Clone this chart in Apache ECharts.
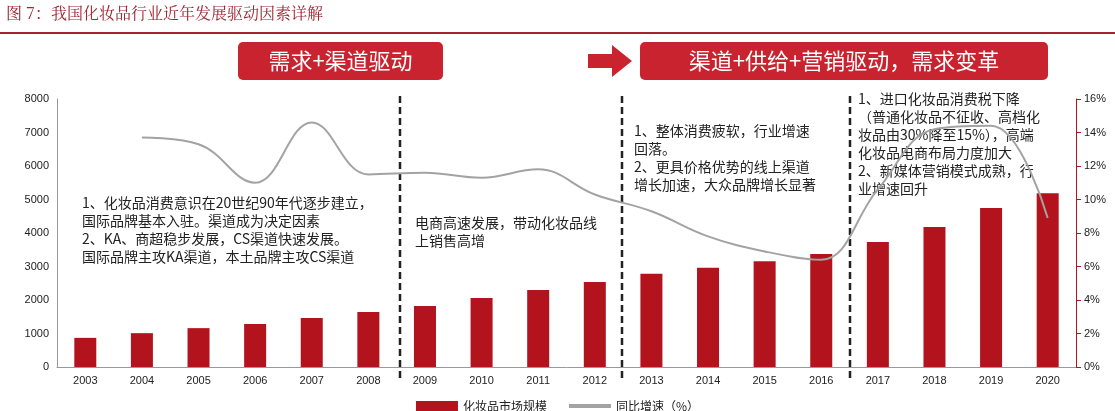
<!DOCTYPE html>
<html>
<head>
<meta charset="UTF-8"/>
<script src="https://cdn.jsdelivr.net/npm/echarts@6/dist/echarts.min.js"></script>
<style>body{margin:0;background:#fff}#chart{width:1115px;height:411px}</style>
</head>
<body>
<div id="chart"></div>
<script>
    var years = ['2003','2004','2005','2006','2007','2008','2009','2010','2011','2012','2013','2014','2015','2016','2017','2018','2019','2020'];
    var marketSize = [870,1010,1160,1280,1460,1640,1820,2060,2300,2540,2780,2960,3160,3370,3730,4180,4750,5190];
    var growth = [null,13.7,13.3,11.0,14.6,11.5,11.6,11.3,11.8,10.3,9.3,7.8,6.9,6.4,10.6,14.2,14.4,8.9];
    var font = '"Noto Sans CJK SC", "Noto Sans", sans-serif';
    var red = '#b3131d';

    // 文字注释
    function note(x, y, text) {
        return {type: 'text', left: x, top: y, style: {text: text, font: '14px ' + font, fill: '#222', lineHeight: 18}};
    }
    function divider(x) {
        return {type: 'line', shape: {x1: x, y1: 96, x2: x, y2: 382}, style: {stroke: '#222', lineWidth: 2.5, lineDash: [7, 4]}};
    }
    function banner(x, w, text) {
        return [
            {type: 'rect', shape: {x: x, y: 42, width: w, height: 38, r: 5}, style: {fill: '#c8232f'}},
            {type: 'text', x: x + w / 2, y: 61, style: {text: text, align: 'center', verticalAlign: 'middle', font: '22px ' + font, fill: '#fff'}}
        ];
    }

    const chart = echarts.init(document.getElementById('chart'));
    chart.setOption({
        animation: false,
        grid: {left: 57, right: 39, top: 99, bottom: 44},
        legend: {
            bottom: -6, itemWidth: 42, itemHeight: 10, itemGap: 22,
            textStyle: {fontFamily: font, fontSize: 12, color: '#222'},
            data: [{name: '化妆品市场规模', icon: 'rect'}, {name: '同比增速（%）', icon: 'path://M0,0H10V1H0Z'}]
        },
        xAxis: {
            type: 'category', data: years,
            axisLine: {lineStyle: {color: '#999'}}, axisTick: {show: false},
            axisLabel: {color: '#222', fontSize: 11, fontFamily: 'Liberation Sans'}
        },
        yAxis: [{
            type: 'value', min: 0, max: 8000, interval: 1000,
            splitLine: {show: false}, axisLine: {show: true, lineStyle: {color: '#999'}},
            axisLabel: {color: '#222', fontSize: 11, fontFamily: 'Liberation Sans', formatter: function (v) { return String(v); }}
        }, {
            type: 'value', min: 0, max: 16, interval: 2,
            splitLine: {show: false}, axisLine: {show: true, lineStyle: {color: red}},
            axisTick: {show: true, lineStyle: {color: red}},
            axisLabel: {color: '#222', fontSize: 11, fontFamily: 'Liberation Sans', formatter: '{value}%'}
        }],
        series: [{
            name: '化妆品市场规模', type: 'bar', data: marketSize, barWidth: 22,
            itemStyle: {color: red}
        }, {
            name: '同比增速（%）', type: 'line', yAxisIndex: 1, data: growth, smooth: 0.4,
            showSymbol: false, lineStyle: {color: '#a3a3a3', width: 2}, itemStyle: {color: '#a3a3a3'}
        }],
        graphic: [
            {type: 'text', left: 6, top: 5, style: {text: '图 7：我国化妆品行业近年发展驱动因素详解', font: '16px "Noto Serif CJK SC", "Noto Sans CJK SC"', fill: '#a02432'}},
            {type: 'line', shape: {x1: 0, y1: 33, x2: 1115, y2: 33}, style: {stroke: '#a02432', lineWidth: 2}},
            {type: 'polygon', shape: {points: [[588, 54], [612, 54], [612, 45], [632, 61], [612, 77], [612, 68], [588, 68]]}, style: {fill: '#c8232f'}},
            divider(400), divider(622), divider(850),
            note(82, 194, '1、化妆品消费意识在20世纪90年代逐步建立，\n国际品牌基本入驻。渠道成为决定因素\n2、KA、商超稳步发展，CS渠道快速发展。\n国际品牌主攻KA渠道，本土品牌主攻CS渠道'),
            note(415, 214, '电商高速发展，带动化妆品线\n上销售高增'),
            note(634, 122, '1、整体消费疲软，行业增速\n回落。\n2、更具价格优势的线上渠道\n增长加速，大众品牌增长显著'),
            note(858, 90, '1、进口化妆品消费税下降\n（普通化妆品不征收、高档化\n妆品由30%降至15%），高端\n化妆品电商布局力度加大\n2、新媒体营销模式成熟，行\n业增速回升')
        ].concat(banner(238, 205, '需求+渠道驱动'), banner(640, 408, '渠道+供给+营销驱动，需求变革'))
    });
</script>
</body>
</html>
